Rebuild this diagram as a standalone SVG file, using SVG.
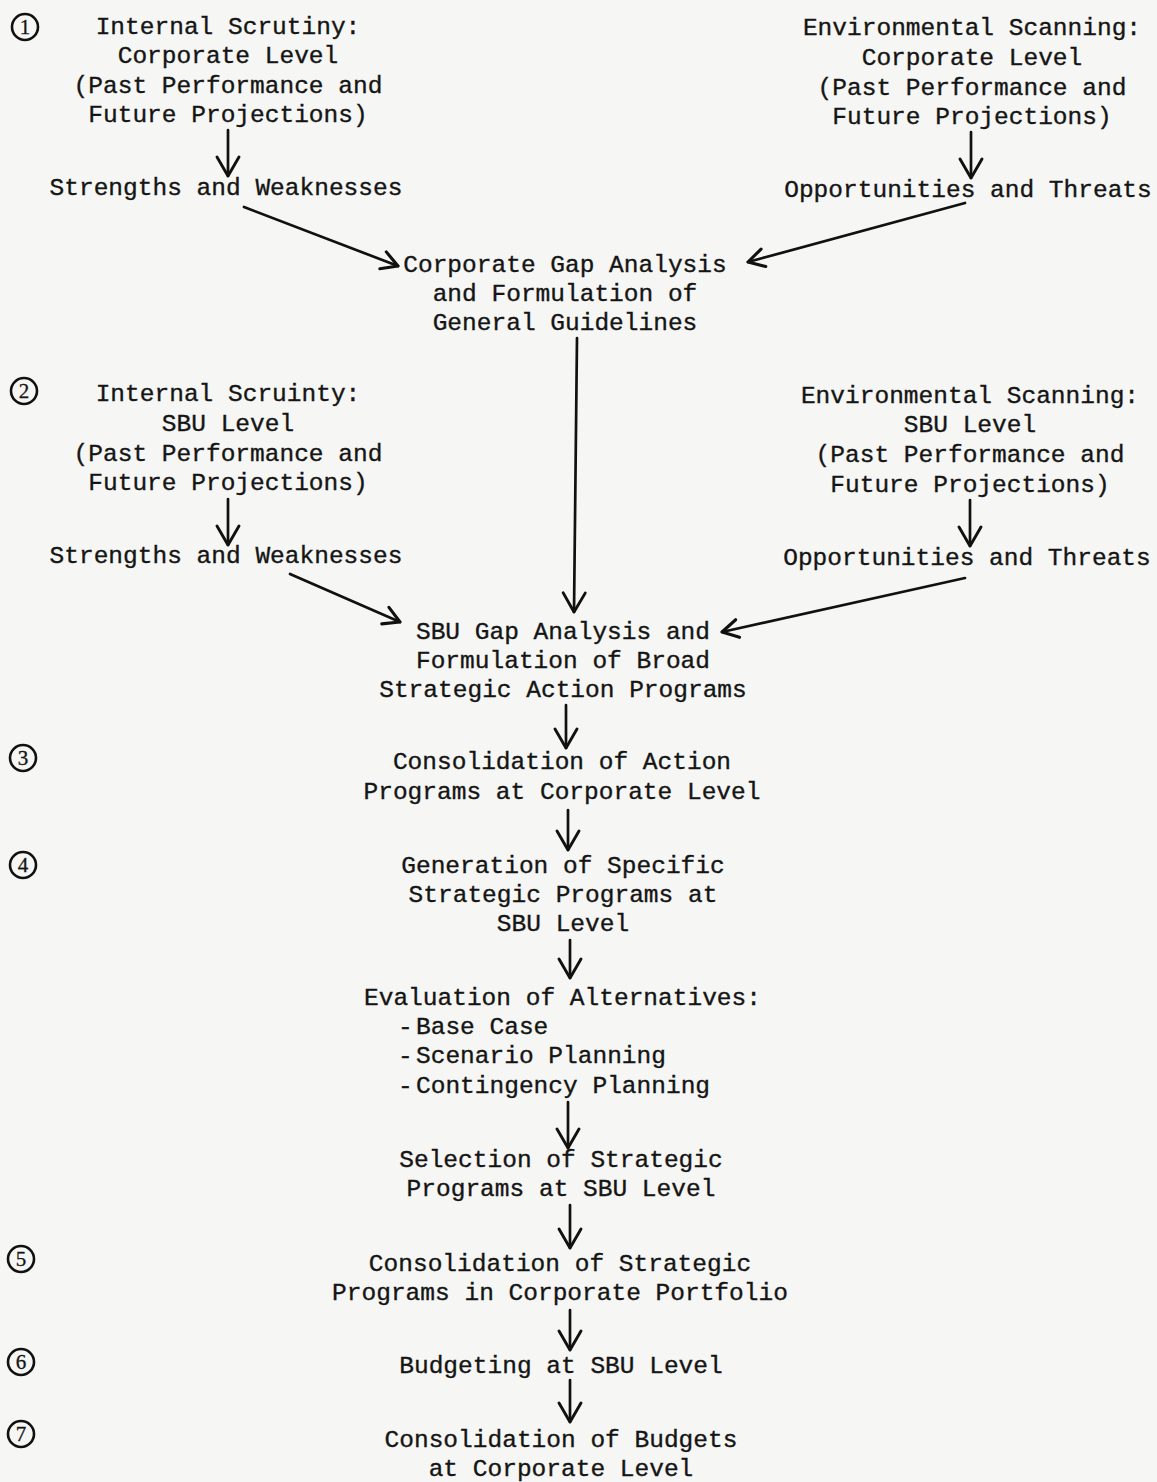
<svg xmlns="http://www.w3.org/2000/svg" width="1157" height="1482" viewBox="0 0 1157 1482">
<defs>
<style>
text{font-family:"Liberation Mono","DejaVu Sans Mono",monospace;font-size:24.5px;fill:#151515;stroke:#151515;stroke-width:0.35px;}
.c{text-anchor:middle;}
.n{font-family:"Liberation Serif","Times New Roman",serif;font-size:21px;text-anchor:middle;stroke-width:0.3px;}
.ring{fill:none;stroke:#111;stroke-width:2.6;}
.ln{fill:none;stroke:#111;stroke-width:2.7;stroke-linecap:round;}
</style>
<marker id="h" markerUnits="userSpaceOnUse" viewBox="-22 -14 26 28" refX="0" refY="0" markerWidth="26" markerHeight="28" orient="auto">
<path d="M-19,-11 L0,0 L-19,11" fill="none" stroke="#111" stroke-width="2.9" stroke-linecap="round" stroke-linejoin="round"/>
</marker>
<marker id="hs" markerUnits="userSpaceOnUse" viewBox="-22 -14 26 28" refX="0" refY="0" markerWidth="26" markerHeight="28" orient="auto">
<path d="M-16,-9 L0,0 L-16,9" fill="none" stroke="#111" stroke-width="3.1" stroke-linecap="round" stroke-linejoin="round"/>
</marker>
</defs>
<rect width="1157" height="1482" fill="#f6f6f4"/>

<g id="step-markers">
<g id="m1"><circle class="ring" cx="25" cy="27" r="13"/><text class="n" x="25" y="34">1</text></g>
<g id="m2"><circle class="ring" cx="24" cy="391" r="13"/><text class="n" x="24" y="398">2</text></g>
<g id="m3"><circle class="ring" cx="23" cy="758" r="13"/><text class="n" x="23" y="765">3</text></g>
<g id="m4"><circle class="ring" cx="23" cy="865" r="13"/><text class="n" x="23" y="872">4</text></g>
<g id="m5"><circle class="ring" cx="21" cy="1259" r="13"/><text class="n" x="21" y="1266">5</text></g>
<g id="m6"><circle class="ring" cx="21" cy="1362" r="13"/><text class="n" x="21" y="1369">6</text></g>
<g id="m7"><circle class="ring" cx="21" cy="1434" r="13"/><text class="n" x="21" y="1441">7</text></g>
</g>

<g id="internal-corporate">
<text class="c" x="228" y="34">Internal Scrutiny:</text>
<text class="c" x="228" y="63">Corporate Level</text>
<text class="c" x="228" y="93">(Past Performance and</text>
<text class="c" x="228" y="122">Future Projections)</text>
</g>
<g id="sw-corporate"><text class="c" x="226" y="195">Strengths and Weaknesses</text></g>

<g id="env-corporate">
<text class="c" x="972" y="35">Environmental Scanning:</text>
<text class="c" x="972" y="65">Corporate Level</text>
<text class="c" x="972" y="95">(Past Performance and</text>
<text class="c" x="972" y="124">Future Projections)</text>
</g>
<g id="ot-corporate"><text class="c" x="968" y="197">Opportunities and Threats</text></g>

<g id="corporate-gap">
<text class="c" x="565" y="272">Corporate Gap Analysis</text>
<text class="c" x="565" y="301">and Formulation of</text>
<text class="c" x="565" y="330">General Guidelines</text>
</g>

<g id="internal-sbu">
<text class="c" x="228" y="401">Internal Scruinty:</text>
<text class="c" x="228" y="431">SBU Level</text>
<text class="c" x="228" y="461">(Past Performance and</text>
<text class="c" x="228" y="490">Future Projections)</text>
</g>
<g id="sw-sbu"><text class="c" x="226" y="563">Strengths and Weaknesses</text></g>

<g id="env-sbu">
<text class="c" x="970" y="403">Environmental Scanning:</text>
<text class="c" x="970" y="432">SBU Level</text>
<text class="c" x="970" y="462">(Past Performance and</text>
<text class="c" x="970" y="492">Future Projections)</text>
</g>
<g id="ot-sbu"><text class="c" x="967" y="565">Opportunities and Threats</text></g>

<g id="sbu-gap">
<text class="c" x="563" y="639">SBU Gap Analysis and</text>
<text class="c" x="563" y="668">Formulation of Broad</text>
<text class="c" x="563" y="697">Strategic Action Programs</text>
</g>

<g id="consolidation-action">
<text class="c" x="562" y="769">Consolidation of Action</text>
<text class="c" x="562" y="799">Programs at Corporate Level</text>
</g>

<g id="generation">
<text class="c" x="563" y="873">Generation of Specific</text>
<text class="c" x="563" y="902">Strategic Programs at</text>
<text class="c" x="563" y="931">SBU Level</text>
</g>

<g id="evaluation">
<text x="364" y="1005">Evaluation of Alternatives:</text>
<text x="398" y="1034">-</text><text x="416" y="1034">Base Case</text>
<text x="398" y="1063">-</text><text x="416" y="1063">Scenario Planning</text>
<text x="398" y="1093">-</text><text x="416" y="1093">Contingency Planning</text>
</g>

<g id="selection">
<text class="c" x="561" y="1167">Selection of Strategic</text>
<text class="c" x="561" y="1196">Programs at SBU Level</text>
</g>

<g id="consolidation-strategic">
<text class="c" x="560" y="1271">Consolidation of Strategic</text>
<text class="c" x="560" y="1300">Programs in Corporate Portfolio</text>
</g>

<g id="budgeting"><text class="c" x="561" y="1373">Budgeting at SBU Level</text></g>

<g id="consolidation-budgets">
<text class="c" x="561" y="1447">Consolidation of Budgets</text>
<text class="c" x="561" y="1476">at Corporate Level</text>
</g>

<g id="connectors">
<path class="ln" d="M228,130 L228,176" marker-end="url(#h)"/>
<path class="ln" d="M971,132 L971,178" marker-end="url(#h)"/>
<path class="ln" d="M244,207 L398,266" marker-end="url(#hs)"/>
<path class="ln" d="M965,203 L748,262" marker-end="url(#hs)"/>
<path class="ln" d="M577,338 L574,612" marker-end="url(#h)"/>
<path class="ln" d="M228,499 L228,545" marker-end="url(#h)"/>
<path class="ln" d="M970,500 L970,546" marker-end="url(#h)"/>
<path class="ln" d="M290,574 L400,622" marker-end="url(#hs)"/>
<path class="ln" d="M965,578 L722,632" marker-end="url(#hs)"/>
<path class="ln" d="M566,705 L566,748" marker-end="url(#h)"/>
<path class="ln" d="M568,810 L568,850" marker-end="url(#h)"/>
<path class="ln" d="M570,940 L570,978" marker-end="url(#h)"/>
<path class="ln" d="M568,1102 L568,1148" marker-end="url(#h)"/>
<path class="ln" d="M570,1205 L570,1248" marker-end="url(#h)"/>
<path class="ln" d="M570,1310 L570,1350" marker-end="url(#h)"/>
<path class="ln" d="M570,1380 L570,1422" marker-end="url(#h)"/>
</g>
</svg>
